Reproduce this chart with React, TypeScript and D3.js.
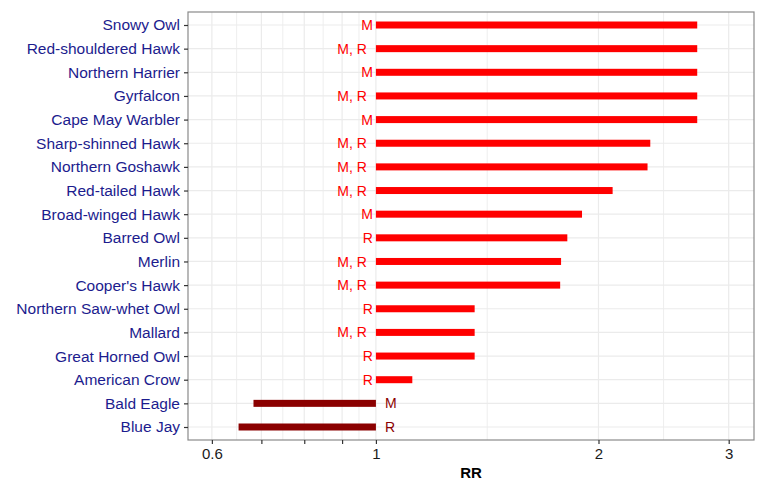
import React, { useEffect, useRef } from 'react';
import * as d3 from 'd3';

// rows top to bottom
const species = [
  'Snowy Owl', 'Red-shouldered Hawk', 'Northern Harrier', 'Gyrfalcon', 'Cape May Warbler',
  'Sharp-shinned Hawk', 'Northern Goshawk', 'Red-tailed Hawk', 'Broad-winged Hawk', 'Barred Owl',
  'Merlin', "Cooper's Hawk", 'Northern Saw-whet Owl', 'Mallard', 'Great Horned Owl',
  'American Crow', 'Bald Eagle', 'Blue Jay',
];
const rr = [
  2.72, 2.72, 2.72, 2.72, 2.72,
  2.35, 2.33, 2.09, 1.90, 1.815,
  1.78, 1.775, 1.36, 1.36, 1.36,
  1.12, 0.683, 0.652,
];
const sources = [
  'M', 'M, R', 'M', 'M, R', 'M',
  'M, R', 'M, R', 'M, R', 'M', 'R',
  'M, R', 'M, R', 'R', 'M, R', 'R',
  'R', 'M', 'R',
];
const tickValues = [0.6, 0.7, 0.8, 0.9, 1, 2, 3];
const tickLabels = ['0.6', '', '', '', '1', '2', '3'];

export default function App() {
  const svgRef = useRef<SVGSVGElement>(null);

  useEffect(() => {
    const width = 766;
    const height = 496;
    const panel = { left: 188, right: 754, top: 12, bottom: 440 };
    const font = '"Liberation Sans", Arial, sans-serif';

    const svg = d3.select(svgRef.current);
    svg.selectAll('*').remove();
    svg.attr('width', width).attr('height', height);

    const x = d3.scaleLog().domain([0.557, 3.246]).range([panel.left, panel.right]);
    const y = d3.scalePoint<string>().domain(species).range([panel.top, panel.bottom]).padding(0.55);

    // minor grid at log midpoints between ticks
    const minor = d3.pairs(tickValues).map(([a, b]) => Math.sqrt(a * b));

    const grid = svg.append('g');
    grid.selectAll('line.minor')
      .data(minor)
      .enter()
      .append('line')
      .attr('x1', d => x(d)).attr('x2', d => x(d))
      .attr('y1', panel.top).attr('y2', panel.bottom)
      .attr('stroke', '#EEEEEE').attr('stroke-width', 1);
    grid.selectAll('line.major')
      .data(tickValues)
      .enter()
      .append('line')
      .attr('x1', d => x(d)).attr('x2', d => x(d))
      .attr('y1', panel.top).attr('y2', panel.bottom)
      .attr('stroke', '#EBEBEB').attr('stroke-width', 1.2);
    grid.selectAll('line.hz')
      .data(species)
      .enter()
      .append('line')
      .attr('x1', panel.left).attr('x2', panel.right)
      .attr('y1', d => y(d)!).attr('y2', d => y(d)!)
      .attr('stroke', '#EBEBEB').attr('stroke-width', 1.2);

    const color = (v: number) => (v >= 1 ? '#FF0000' : '#8B0000');

    // bars from 1 to RR
    svg.selectAll('rect.bar')
      .data(species)
      .enter()
      .append('rect')
      .attr('x', (d, i) => Math.min(x(1), x(rr[i])))
      .attr('width', (d, i) => Math.abs(x(rr[i]) - x(1)))
      .attr('y', d => y(d)! - 3.5)
      .attr('height', 7)
      .attr('fill', (d, i) => color(rr[i]));

    // source labels
    svg.selectAll('text.src')
      .data(species)
      .enter()
      .append('text')
      .attr('x', (d, i) => rr[i] >= 1 ? x(1) - 3 - (sources[i].includes(',') ? 6 : 0) : x(1) + 9)
      .attr('y', d => y(d)!)
      .attr('dy', '0.36em')
      .attr('text-anchor', (d, i) => rr[i] >= 1 ? 'end' : 'start')
      .attr('fill', (d, i) => color(rr[i]))
      .attr('font-family', font)
      .attr('font-size', '14px')
      .text((d, i) => sources[i]);

    // panel border
    svg.append('rect')
      .attr('x', panel.left).attr('y', panel.top)
      .attr('width', panel.right - panel.left).attr('height', panel.bottom - panel.top)
      .attr('fill', 'none').attr('stroke', '#8A8A8A').attr('stroke-width', 1.2);

    // x axis
    const xAxis = d3.axisBottom(x)
      .tickValues(tickValues)
      .tickFormat((d, i) => tickLabels[i])
      .tickSize(4)
      .tickPadding(4);
    const gx = svg.append('g')
      .attr('transform', `translate(0,${panel.bottom})`)
      .call(xAxis);
    gx.select('.domain').remove();
    gx.selectAll('line').attr('stroke', '#333333').attr('stroke-width', 1.2);
    gx.selectAll('text').attr('font-family', font).attr('font-size', '15px').attr('fill', '#1A1A1A');

    // y axis
    const yAxis = d3.axisLeft(y).tickSize(4).tickPadding(4);
    const gy = svg.append('g')
      .attr('transform', `translate(${panel.left},0)`)
      .call(yAxis);
    gy.select('.domain').remove();
    gy.selectAll('line').attr('stroke', '#333333').attr('stroke-width', 1.2);
    gy.selectAll('text').attr('font-family', font).attr('font-size', '15.5px').attr('fill', '#1C1C8E');

    // x axis title
    svg.append('text')
      .attr('x', (panel.left + panel.right) / 2 + 0)
      .attr('y', 478)
      .attr('text-anchor', 'middle')
      .attr('font-family', font)
      .attr('font-size', '15px')
      .attr('font-weight', 'bold')
      .attr('fill', '#000000')
      .text('RR');
  }, []);

  return <svg ref={svgRef} style={{ position: 'absolute', left: 0, top: 0 }}></svg>;
}
